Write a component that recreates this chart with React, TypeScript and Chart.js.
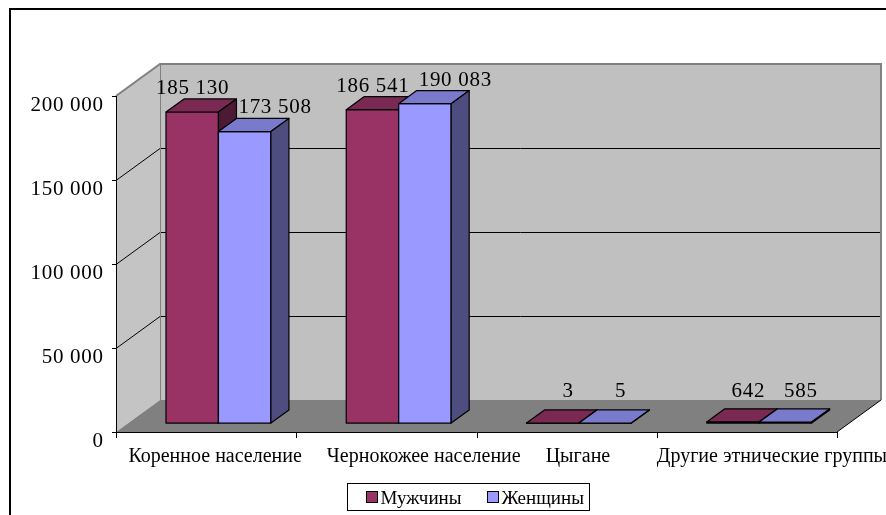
import React, { useEffect, useRef } from 'react';
import { Chart, registerables } from 'chart.js';

Chart.register(...registerables);

const categories = ['Коренное население', 'Чернокожее население', 'Цыгане', 'Другие этнические группы'];
const seriesNames = ['Мужчины', 'Женщины'];
const menValues = [185130, 186541, 3, 642];
const womenValues = [173508, 190083, 5, 585];
const yTicks = [0, 50000, 100000, 150000, 200000];

const palette = [
  { front: '#993366', top: '#7a2952', side: '#4d1a33' },
  { front: '#9999ff', top: '#7a7acc', side: '#4d4d80' },
];

const NUM_FONT = '21px "Liberation Serif"';
const CAT_FONT = '20px "Liberation Serif"';
const LEG_FONT = '19px "Liberation Serif"';
const DX = 44;
const DY = 32;
const BAR_FRONT = 0.28;
const BAR_DEPTH = 0.41;

const fmt = (v: number) => String(v).replace(/\B(?=(\d{3})+(?!\d))/g, ' ');

function poly(ctx: CanvasRenderingContext2D, pts: number[][], fill: string | null, stroke: string | null, lw = 1) {
  ctx.beginPath();
  ctx.moveTo(pts[0][0], pts[0][1]);
  for (let i = 1; i < pts.length; i++) ctx.lineTo(pts[i][0], pts[i][1]);
  ctx.closePath();
  if (fill) {
    ctx.fillStyle = fill;
    ctx.fill();
  }
  if (stroke) {
    ctx.strokeStyle = stroke;
    ctx.lineWidth = lw;
    ctx.stroke();
  }
}

function line(ctx: CanvasRenderingContext2D, pts: number[][], color: string, lw = 1) {
  ctx.beginPath();
  ctx.moveTo(pts[0][0], pts[0][1]);
  for (let i = 1; i < pts.length; i++) ctx.lineTo(pts[i][0], pts[i][1]);
  ctx.strokeStyle = color;
  ctx.lineWidth = lw;
  ctx.stroke();
}

const excel3d = {
  id: 'excel3d',
  beforeDatasetsDraw(chart: any) {
    const ctx: CanvasRenderingContext2D = chart.ctx;
    const a = chart.chartArea;
    const yS = chart.scales.y;
    const L = a.left;
    const R = a.right;
    const T = yS.getPixelForValue(yTicks[yTicks.length - 1]);
    const B = yS.getPixelForValue(0);
    ctx.save();
    poly(ctx, [[L + DX, T - DY], [R + DX, T - DY], [R + DX, B - DY], [L + DX, B - DY]], '#c0c0c0', null);
    poly(ctx, [[L, T], [L + DX, T - DY], [L + DX, B - DY], [L, B]], '#c4c4c4', null);
    poly(ctx, [[L, B], [R, B], [R + DX, B - DY], [L + DX, B - DY]], '#808080', null);
    yTicks.forEach((v, i) => {
      if (i === 0 || i === yTicks.length - 1) return;
      const y = Math.round(yS.getPixelForValue(v)) + 0.5;
      line(ctx, [[L, y], [L + DX, y - DY], [R + DX, y - DY]], '#000000', 1);
    });
    line(ctx, [[L + DX + 0.5, T - DY], [L + DX + 0.5, B - DY]], '#808080', 1);
    line(ctx, [[L, T], [L + DX, T - DY], [R + DX, T - DY], [R + DX, B - DY]], '#808080', 2);
    line(ctx, [[R, B], [R + DX, B - DY]], '#000000', 1);
    line(ctx, [[L + 0.5, T], [L + 0.5, B]], '#000000', 1);
    line(ctx, [[L, B + 0.5], [R, B + 0.5]], '#000000', 1);
    yTicks.forEach((v) => {
      const y = Math.round(yS.getPixelForValue(v)) + 0.5;
      line(ctx, [[L - 4, y], [L, y]], '#000000', 1);
    });
    for (let i = 0; i <= categories.length; i++) {
      const x = Math.round(L + ((R - L) * i) / categories.length) + 0.5;
      line(ctx, [[x, B], [x, B + 6]], '#000000', 1);
    }
    const fx = DX * BAR_FRONT;
    const fy = DY * BAR_FRONT;
    const bdx = DX * BAR_DEPTH;
    const bdy = DY * BAR_DEPTH;
    ctx.lineJoin = 'round';
    for (let i = 0; i < categories.length; i++) {
      chart.data.datasets.forEach((ds: any, d: number) => {
        const el = chart.getDatasetMeta(d).data[i];
        const p = el.getProps(['x', 'y', 'base', 'width'], true);
        const l = p.x - p.width / 2 + fx;
        const r = p.x + p.width / 2 + fx;
        const t = p.y - fy;
        const b = p.base - fy;
        const c = palette[d];
        poly(ctx, [[l, b], [l, t], [r, t], [r, b]], c.front, '#000000', 1.2);
        poly(ctx, [[l, t], [r, t], [r + bdx, t - bdy], [l + bdx, t - bdy]], c.top, '#000000', 1.2);
        poly(ctx, [[r, t], [r + bdx, t - bdy], [r + bdx, b - bdy], [r, b]], c.side, '#000000', 1.2);
      });
    }
    ctx.restore();
    return false;
  },
  afterDraw(chart: any) {
    const ctx: any = chart.ctx;
    const a = chart.chartArea;
    const yS = chart.scales.y;
    const xS = chart.scales.x;
    const L = a.left;
    const R = a.right;
    const B = yS.getPixelForValue(0);
    const fx = DX * BAR_FRONT;
    const fy = DY * BAR_FRONT;
    const bdx = DX * BAR_DEPTH;
    const bdy = DY * BAR_DEPTH;
    ctx.save();
    ctx.fillStyle = '#000000';
    ctx.textBaseline = 'alphabetic';

    // numbers: y ticks and value labels
    ctx.font = NUM_FONT;
    ctx.letterSpacing = '0.7px';
    ctx.textAlign = 'left';
    yTicks.forEach((v) => {
      const y = yS.getPixelForValue(v);
      const t = fmt(v);
      const w = ctx.measureText(t).width - 0.7;
      ctx.fillText(t, L - 13 - w, y + 14.5);
    });

    for (let i = 0; i < categories.length; i++) {
      const items = chart.data.datasets.map((ds: any, d: number) => {
        const el = chart.getDatasetMeta(d).data[i];
        const p = el.getProps(['x', 'y', 'base', 'width'], true);
        const text = fmt(ds.data[i]);
        const w = ctx.measureText(text).width - 0.7;
        const cx = p.x + fx + bdx / 2 + 6;
        const yb = Math.min(p.y - fy - bdy - 5, B - DY - 3);
        return { text, w, cx, y: yb };
      });
      for (let k = 1; k < items.length; k++) {
        const prev = items[k - 1];
        const cur = items[k];
        const need = prev.w / 2 + cur.w / 2 + 10;
        const gap = cur.cx - prev.cx;
        if (gap < need) {
          const shift = (need - gap) / 2;
          prev.cx -= shift;
          cur.cx += shift;
        }
      }
      items.forEach((it: any) => ctx.fillText(it.text, it.cx - it.w / 2, it.y));
    }
    ctx.letterSpacing = '0px';

    // category labels
    ctx.font = CAT_FONT;
    const catW = (R - L) / categories.length;
    let prevEnd = -Infinity;
    categories.forEach((c, i) => {
      const w = ctx.measureText(c).width;
      const center = xS.getPixelForValue(i) + 9;
      let left = center - w / 2;
      if (w > catW) left = Math.max(left, L + catW * i);
      left = Math.max(left, prevEnd + 25);
      ctx.fillText(c, left, B + 30);
      prevEnd = left + w;
    });

    // legend
    ctx.font = LEG_FONT;
    const sw = 11;
    const itemW = seriesNames.map((n) => ctx.measureText(n).width);
    const gapItems = 26;
    const padL = 18;
    const padR = 8;
    const boxW = Math.round(padL + sw + 3 + itemW[0] + gapItems + sw + 2 + itemW[1] + padR);
    const boxH = 27;
    const boxX = Math.round(468 - boxW / 2) + 0.5;
    const boxY = 483.5;
    ctx.fillStyle = '#ffffff';
    ctx.fillRect(boxX, boxY, boxW, boxH);
    ctx.strokeStyle = '#000000';
    ctx.lineWidth = 1;
    ctx.strokeRect(boxX, boxY, boxW, boxH);
    let lx = Math.round(boxX + padL) + 0.5;
    seriesNames.forEach((n, k) => {
      ctx.fillStyle = palette[k].front;
      ctx.fillRect(lx, boxY + 8, sw, sw);
      ctx.strokeStyle = '#000000';
      ctx.lineWidth = 1;
      ctx.strokeRect(lx, boxY + 8, sw, sw);
      ctx.fillStyle = '#000000';
      ctx.fillText(n, lx + sw + 3, boxY + 20);
      lx = Math.round(lx + sw + 3 + itemW[k] + gapItems) + 0.5;
    });

    line(ctx, [[10, 515], [10, 9], [886, 9]], '#000000', 2);
    ctx.restore();
  },
};

export default function App() {
  const ref = useRef<HTMLCanvasElement | null>(null);
  useEffect(() => {
    document.body.style.margin = '0';
    const canvas = ref.current;
    if (!canvas) return;
    const chart = new Chart(canvas, {
      type: 'bar',
      data: {
        labels: categories,
        datasets: [
          { label: seriesNames[0], data: menValues, backgroundColor: palette[0].front },
          { label: seriesNames[1], data: womenValues, backgroundColor: palette[1].front },
        ],
      },
      options: {
        responsive: false,
        animation: false,
        devicePixelRatio: 1,
        layout: { padding: { left: 116, right: 49, top: 96, bottom: 83 } },
        datasets: { bar: { categoryPercentage: 0.582, barPercentage: 1 } },
        scales: {
          x: { display: false, offset: true },
          y: { display: false, min: 0, max: 200000 },
        },
        plugins: { legend: { display: false }, tooltip: { enabled: false } },
      },
      plugins: [excel3d],
    });
    return () => chart.destroy();
  }, []);
  return (
    <div style={{ width: 886, height: 515, background: '#ffffff' }}>
      <canvas ref={ref} width={886} height={515} style={{ display: 'block' }} />
    </div>
  );
}
